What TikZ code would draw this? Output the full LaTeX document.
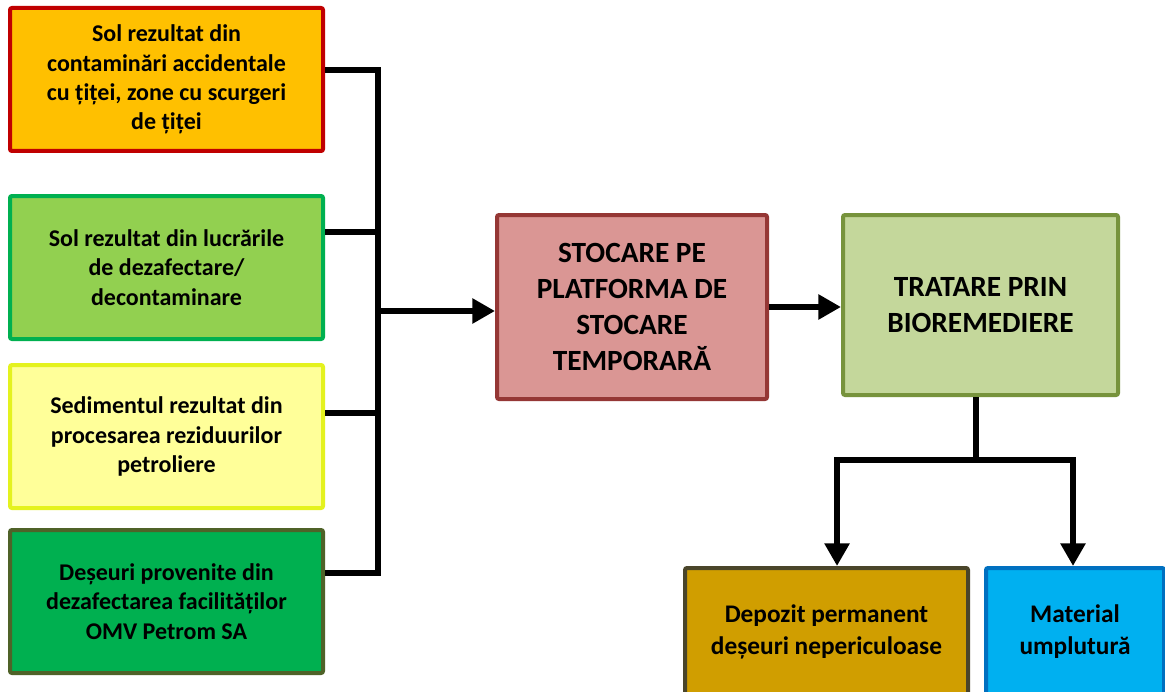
\documentclass[tikz,border=0pt]{standalone}
\usepackage{fontspec}
\setmainfont{Carlito}
\usetikzlibrary{arrows.meta}
\definecolor{aFill}{HTML}{FFC000}\definecolor{aLine}{HTML}{C00000}
\definecolor{bFill}{HTML}{92D050}\definecolor{bLine}{HTML}{00B050}
\definecolor{cFill}{HTML}{FFFF99}\definecolor{cLine}{HTML}{E4F21E}
\definecolor{dFill}{HTML}{00B050}\definecolor{dLine}{HTML}{4F6228}
\definecolor{sFill}{HTML}{DA9694}\definecolor{sLine}{HTML}{953735}
\definecolor{tFill}{HTML}{C4D79B}\definecolor{tLine}{HTML}{77933C}
\definecolor{pFill}{HTML}{D09E00}\definecolor{pLine}{HTML}{4A452A}
\definecolor{mFill}{HTML}{00B0F0}\definecolor{mLine}{HTML}{0070C0}
\tikzset{
  box/.style={draw, line width=3pt, rounded corners=1.5pt, align=center, font=\bfseries, inner sep=2pt},
  srcbox/.style={box, minimum width=234.75pt, minimum height=107.25pt, font=\fontsize{18}{22}\selectfont\bfseries},
  bigbox/.style={box, minimum height=136pt, font=\fontsize{22}{27}\selectfont\bfseries},
  endbox/.style={box, minimum height=96pt, font=\fontsize{19}{24}\selectfont\bfseries},
  conn/.style={line width=4.5pt, black},
  arr/.style={conn, -{Triangle[length=17pt,width=18pt]}}
}
\begin{document}
\begin{tikzpicture}[x=0.75pt,y=-0.75pt]
\useasboundingbox (0,0) rectangle (1165,692);
\clip (0,0) rectangle (1165,692);
\fill[white] (0,0) rectangle (1165,692);
\node[srcbox, fill=aFill, draw=aLine] (A) at (166.5,79.5) {Sol rezultat din\\contaminări accidentale\\cu țiței, zone cu scurgeri\\de țiței};
\node[srcbox, fill=bFill, draw=bLine] (B) at (166.5,267.5) {Sol rezultat din lucrările\\de dezafectare/\\decontaminare};
\node[srcbox, fill=cFill, draw=cLine] (C) at (166.5,436.5) {Sedimentul rezultat din\\procesarea reziduurilor\\petroliere};
\node[srcbox, fill=dFill, draw=dLine] (D) at (166.5,601.5) {Deșeuri provenite din\\dezafectarea facilităților\\OMV Petrom SA};
\node[bigbox, fill=sFill, draw=sLine, minimum width=202.5pt, minimum height=138pt] (S) at (632,307) {STOCARE PE\\PLATFORMA DE\\STOCARE\\TEMPORARĂ};
\node[bigbox, fill=tFill, draw=tLine, minimum width=206.25pt, minimum height=135pt] (T) at (980.5,305) {TRATARE PRIN\\BIOREMEDIERE};
\node[endbox, fill=pFill, draw=pLine, minimum width=212.25pt] (P) at (826.5,632) {Depozit permanent\\deșeuri nepericuloase};
\node[endbox, fill=mFill, draw=mLine, minimum width=133.5pt] (M) at (1075,632) {Material\\umplutură};
\coordinate (busM) at (378,311);
\coordinate (tb) at (976,460);
\draw[conn] ([yshift=7.1pt]A.east) -| (busM) |- ([yshift=21.4pt]D.east);
\draw[conn] ([yshift=26.6pt]B.east) coordinate (b1) -- (b1 -| busM);
\draw[conn] ([yshift=17.6pt]C.east) coordinate (c1) -- (c1 -| busM);
\draw[arr] (busM) -- (busM -| S.west);
\draw[arr] (S.east) -- (S.east -| T.west);
\draw[conn] (T.south -| tb) -- (tb);
\draw[arr] (tb) -| ([xshift=7.9pt]P.north);
\draw[arr] (tb) -| ([xshift=-1.5pt]M.north);
\end{tikzpicture}
\end{document}
